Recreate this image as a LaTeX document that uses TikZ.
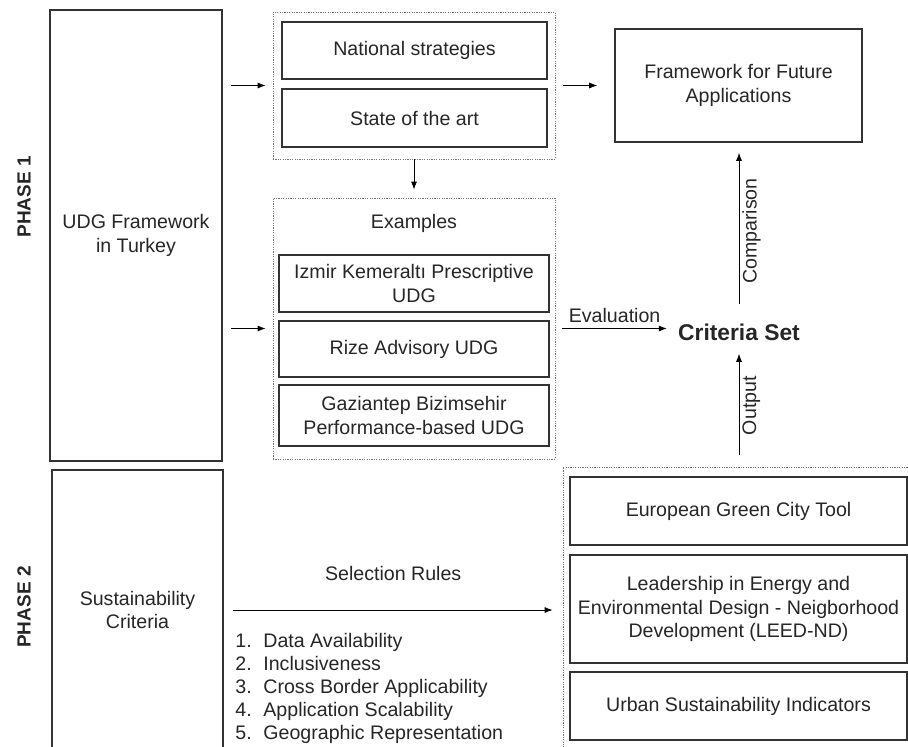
\documentclass[tikz,border=0pt]{standalone}
\usepackage{fontspec}
\setmainfont{Liberation Sans}
\usetikzlibrary{positioning}
\usetikzlibrary{arrows.meta}

\tikzset{
    box/.style={draw=black!80, line width=0.8pt, align=center, inner sep=2pt},
    group/.style={draw=black!55, dash pattern=on 0.6pt off 0.6pt, line width=0.4pt, inner sep=0pt},
    phase/.style={font=\bfseries\fontsize{9.5}{11}\selectfont, rotate=90},
    lbl/.style={inner sep=1.5pt},
}

\begin{document}
\begin{tikzpicture}[x=0.5pt, y=-0.5pt, >={Latex[length=4pt,width=3pt]},
        font=\fontsize{9.8}{11.7}\selectfont, text=black!85]
        \useasboundingbox (0,0) rectangle (908,746);
        \clip (0,0) rectangle (908,746);

        % phase 1
        \node[phase] (ph1) at (24,197) {PHASE 1};
        \node[box, minimum width=86pt, minimum height=225.5pt] (udg) at (136,235.5) {UDG Framework\\in Turkey};

        \node[box, minimum width=132.5pt, minimum height=28.5pt] (natl) at (414.5,50.5) {National strategies};
        \node[box, minimum width=132.5pt, minimum height=29pt] (sota) at (414.5,118) {State of the art};
        \node[group, minimum width=141pt, minimum height=73.5pt] (grp1) at (414,85.5) {};

        \node[group, minimum width=141pt, minimum height=130.5pt] (grp2) at (414,328.5) {};
        \node (exlbl) at (414,223) {Examples};
        \node[box, minimum width=135pt, minimum height=28.5pt] (izmir) at (414,283.5) {Izmir Kemeraltı Prescriptive\\UDG};
        \node[box, minimum width=135pt, minimum height=28pt] (rize) at (414,349) {Rize Advisory UDG};
        \node[box, minimum width=135pt, minimum height=30.5pt] (gazi) at (414,415.5) {Gaziantep Bizimsehir\\Performance-based UDG};

        \node[box, minimum width=123.5pt, minimum height=56.5pt] (future) at (738.5,85.5) {Framework for Future\\Applications};
        \node[inner sep=2pt, font=\bfseries\fontsize{11.4}{13}\selectfont] (crit) at (739,332) {Criteria Set};

        \draw[->, shorten <=4pt, shorten >=3.5pt] (udg.east |- grp1.west) -- (grp1.west);
        \draw[->, shorten <=4pt, shorten >=3.5pt] (udg.east |- grp2.west) -- (grp2.west);
        \draw[->, shorten >=4pt] (grp1.south) -- (grp2.north);
        \draw[->, shorten <=4pt, shorten >=8.5pt] (grp1.east) -- (grp1.east -| future.west);
        \draw[->, shorten <=3.5pt, shorten >=3.5pt] (grp2.east) -- (grp2.east -| crit.west)
            node[lbl, midway, above=1pt] {Evaluation};
        \draw[->, shorten <=7.5pt, shorten >=5pt] (crit.north) -- (crit.north |- future.south)
            node[lbl, midway, anchor=north, rotate=90] {Comparison};

        % phase 2
        \node[phase] (ph2) at (24,607) {PHASE 2};
        \node[box, minimum width=85.5pt, minimum height=140pt] (sust) at (137.5,610) {Sustainability\\Criteria};

        \node[group, minimum width=178.5pt, minimum height=146.5pt] (grp3) at (741.5,613.5) {};
        \node[box, minimum width=168.5pt, minimum height=34pt] (egct) at (738.5,511) {European Green City Tool};
        \node[box, minimum width=168.5pt, minimum height=54pt] (leed) at (738.5,609) {Leadership in Energy and\\Environmental Design - Neigborhood\\Development (LEED-ND)};
        \node[box, minimum width=168.5pt, minimum height=34pt] (usi) at (738.5,706) {Urban Sustainability Indicators};

        \draw[->, shorten <=4.5pt, shorten >=5pt] (sust.east) -- (sust.east -| grp3.west)
            node[lbl, midway, above=13pt] {Selection Rules};
        \draw[->, shorten <=6pt, shorten >=4.5pt] (grp3.north -| crit) -- (crit.south)
            node[lbl, midway, anchor=north, rotate=90] {Output};

        \foreach \rname [count=\i] in {Data Availability, Inclusiveness, Cross Border Applicability, Application Scalability, Geographic Representation}
            \node[anchor=base west, inner sep=0pt] (rule\i) at (235,{647+23*(\i-1)}) {\makebox[14pt][l]{\i.}\rname};
    \end{tikzpicture}
\end{document}
